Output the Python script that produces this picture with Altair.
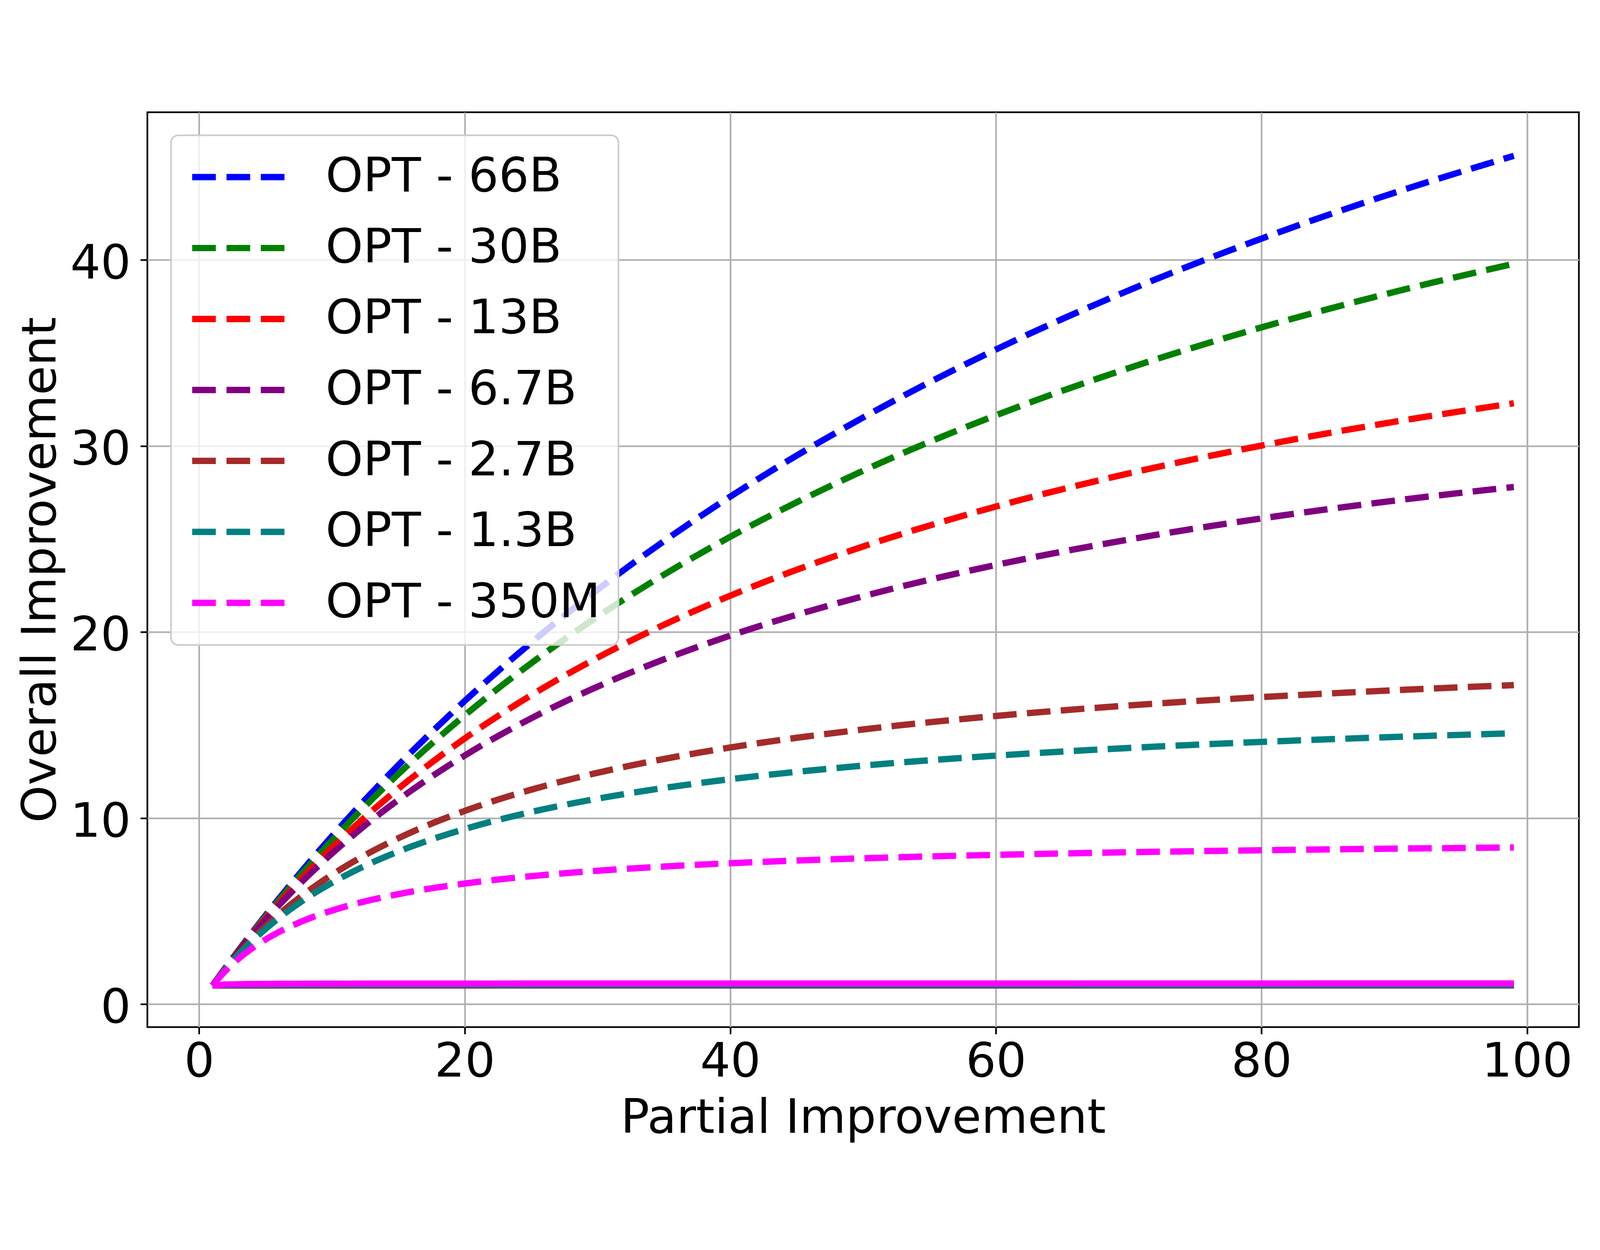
import altair as alt
import pandas as pd

# ---------------- data ----------------
x_vals = [1, 2, 3, 4, 5, 6, 8, 10, 12, 15, 20, 25, 30, 35, 40, 50, 60, 70, 80, 90, 99]

series_names = ["OPT - 66B", "OPT - 30B", "OPT - 13B", "OPT - 6.7B",
                "OPT - 2.7B", "OPT - 1.3B", "OPT - 350M"]
series_colors = ["#0000ff", "#008000", "#ff0000", "#800080",
                 "#a52a2a", "#008080", "#ff00ff"]

dashed_66b = [1.0, 1.976, 2.930, 3.862, 4.772, 5.662, 7.383, 9.029, 10.606, 12.850, 16.299,
              19.428, 22.279, 24.888, 27.284, 31.535, 35.189, 38.366, 41.151, 43.615, 45.60]
dashed_30b = [1.0, 1.970, 2.912, 3.826, 4.714, 5.577, 7.232, 8.798, 10.283, 12.371, 15.523,
              18.324, 20.830, 23.085, 25.125, 28.673, 31.652, 34.189, 36.377, 38.282, 39.80]
dashed_13b = [1.0, 1.959, 2.879, 3.762, 4.611, 5.428, 6.972, 8.406, 9.742, 11.583, 14.282,
              16.604, 18.622, 20.392, 21.957, 24.601, 26.748, 28.527, 30.024, 31.302, 32.30]
dashed_6_7b = [1.0, 1.949, 2.851, 3.709, 4.527, 5.307, 6.763, 8.096, 9.321, 10.982, 13.365,
               15.364, 17.067, 18.534, 19.811, 21.926, 23.607, 24.974, 26.108, 27.063, 27.80]
dashed_2_7b = [1.0, 1.907, 2.734, 3.490, 4.185, 4.825, 5.966, 6.953, 7.814, 8.919, 10.388,
               11.527, 12.436, 13.179, 13.796, 14.765, 15.491, 16.054, 16.504, 16.872, 17.15]
dashed_1_3b = [1.0, 1.888, 2.683, 3.397, 4.043, 4.630, 5.657, 6.525, 7.268, 8.203, 9.414,
               10.329, 11.045, 11.620, 12.092, 12.821, 13.358, 13.770, 14.096, 14.361, 14.56]
dashed_350m = [1.0, 1.802, 2.460, 3.009, 3.474, 3.874, 4.524, 5.030, 5.436, 5.913, 6.482,
               6.879, 7.171, 7.396, 7.574, 7.839, 8.025, 8.164, 8.271, 8.357, 8.42]

solid_66b = [1.0, 1.005, 1.007, 1.008, 1.008, 1.009, 1.009, 1.009, 1.01, 1.01, 1.01,
             1.01, 1.01, 1.01, 1.01, 1.01, 1.01, 1.01, 1.01, 1.01, 1.01]
solid_30b = [1.0, 1.005, 1.007, 1.008, 1.008, 1.009, 1.009, 1.009, 1.01, 1.01, 1.01,
             1.01, 1.01, 1.01, 1.01, 1.01, 1.01, 1.01, 1.01, 1.01, 1.01]
solid_13b = [1.0, 1.01, 1.013, 1.015, 1.016, 1.017, 1.018, 1.018, 1.019, 1.019, 1.019,
             1.02, 1.02, 1.02, 1.02, 1.02, 1.02, 1.02, 1.02, 1.02, 1.02]
solid_6_7b = [1.0, 1.01, 1.013, 1.015, 1.016, 1.017, 1.018, 1.018, 1.019, 1.019, 1.019,
              1.02, 1.02, 1.02, 1.02, 1.02, 1.02, 1.02, 1.02, 1.02, 1.02]
solid_2_7b = [1.0, 1.015, 1.02, 1.023, 1.024, 1.025, 1.027, 1.027, 1.028, 1.029, 1.029,
              1.03, 1.03, 1.03, 1.03, 1.03, 1.03, 1.03, 1.03, 1.03, 1.03]
solid_1_3b = [1.0, 1.025, 1.033, 1.038, 1.04, 1.042, 1.044, 1.046, 1.047, 1.048, 1.048,
              1.049, 1.049, 1.05, 1.05, 1.05, 1.05, 1.05, 1.05, 1.05, 1.05]
solid_350m = [1.0, 1.053, 1.07, 1.079, 1.085, 1.089, 1.094, 1.097, 1.099, 1.101, 1.103,
              1.105, 1.106, 1.106, 1.107, 1.108, 1.108, 1.109, 1.109, 1.11, 1.11]

dashed_all = [dashed_66b, dashed_30b, dashed_13b, dashed_6_7b, dashed_2_7b, dashed_1_3b, dashed_350m]
solid_all = [solid_66b, solid_30b, solid_13b, solid_6_7b, solid_2_7b, solid_1_3b, solid_350m]

x_ticks = [0, 20, 40, 60, 80, 100]
y_ticks = [0, 10, 20, 30, 40]

# ---------------- tables ----------------
rows_d, rows_s = [], []
for k, name in enumerate(series_names):
    for i, xv in enumerate(x_vals):
        rows_d.append({"Partial": xv, "Overall": dashed_all[k][i], "Model": name, "ord": k * 100 + i})
        rows_s.append({"Partial": xv, "Overall": solid_all[k][i], "Model": name, "ord": k * 100 + i})
df_d = pd.DataFrame(rows_d)
df_s = pd.DataFrame(rows_s)

FONT = "DejaVu Sans"
FS = 143
W, H = 4297, 2746
LW = 19

x_scale = alt.Scale(domain=[-3.9, 103.9], nice=False, zero=False)
y_scale = alt.Scale(domain=[-1.235, 47.94], nice=False, zero=False)
color_scale = alt.Scale(domain=series_names, range=series_colors)

x_axis = alt.Axis(values=x_ticks, title="Partial Improvement", grid=True,
                  gridColor="#b0b0b0", gridWidth=5, domain=False,
                  tickColor="black", tickWidth=5, tickSize=21,
                  labelFont=FONT, labelFontSize=FS, labelColor="black", labelPadding=14,
                  labelFlush=False, labelOverlap=False, labelLimit=3000,
                  titleFont=FONT, titleFontSize=FS, titleFontWeight="normal", titleColor="black",
                  titleBaseline="alphabetic", titleY=317, titleX=W / 2, titleAlign="center",
                  titleLimit=5000)
y_axis = alt.Axis(values=y_ticks, title="Overall Improvement", grid=True,
                  gridColor="#b0b0b0", gridWidth=5, domain=False,
                  tickColor="black", tickWidth=5, tickSize=21,
                  labelFont=FONT, labelFontSize=FS, labelColor="black", labelPadding=29,
                  labelBaseline="middle", labelOffset=12, labelFlush=False, labelOverlap=False,
                  labelLimit=3000,
                  titleFont=FONT, titleFontSize=FS, titleFontWeight="normal", titleColor="black",
                  titleAngle=270, titleBaseline="alphabetic", titleX=-276, titleY=H / 2,
                  titleAlign="center", titleLimit=5000)

legend = alt.Legend(title=None, orient="none", legendX=71, legendY=69,
                    symbolType="stroke", symbolSize=277 * 277, symbolStrokeWidth=LW,
                    symbolDash=[71, 32], labelFont=FONT, labelFontSize=FS, labelColor="black",
                    labelLimit=3000, labelOffset=114, rowPadding=69, padding=54,
                    clipHeight=143, cornerRadius=22, strokeColor="#cccccc",
                    fillColor="rgba(255,255,255,0.8)")

dashed = alt.Chart(df_d).mark_line(strokeWidth=LW, strokeDash=[71, 31], interpolate="monotone",
                                   strokeCap="butt").encode(
    x=alt.X("Partial:Q", scale=x_scale, axis=x_axis),
    y=alt.Y("Overall:Q", scale=y_scale, axis=y_axis),
    color=alt.Color("Model:N", scale=color_scale, legend=legend),
    order=alt.Order("ord:Q"),
)

solid = alt.Chart(df_s).mark_line(strokeWidth=LW, interpolate="monotone", strokeCap="butt").encode(
    x=alt.X("Partial:Q", scale=x_scale),
    y=alt.Y("Overall:Q", scale=y_scale),
    color=alt.Color("Model:N", scale=color_scale, legend=None),
    order=alt.Order("ord:Q"),
)

chart = alt.layer(dashed, solid).properties(
    width=W, height=H,
    autosize=alt.AutoSizeParams(type="none"),
    padding={"left": 433, "top": 53, "right": 54, "bottom": 385},
    background="white",
).configure_view(stroke="black", strokeWidth=5).configure_legend(strokeWidth=5)

chart.save("out.html", embed_options={"renderer": "svg", "actions": False})
